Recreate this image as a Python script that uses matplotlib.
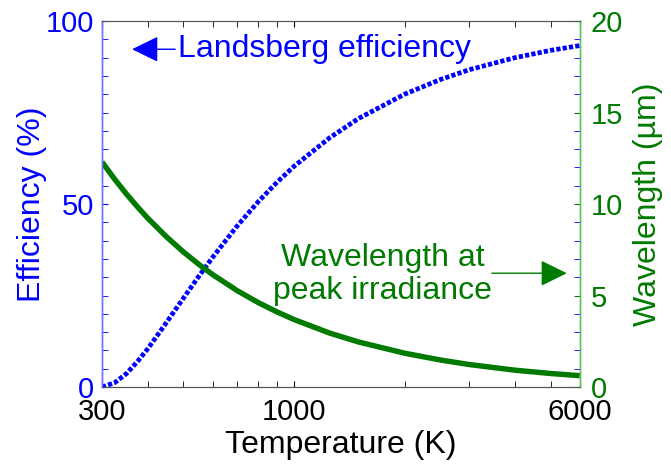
import matplotlib
matplotlib.use("Agg")
import matplotlib.pyplot as plt
from matplotlib.ticker import FixedLocator, NullFormatter, MultipleLocator

plt.rcParams['font.family'] = ['Liberation Sans', 'DejaVu Sans']

# temperatures (K) and values
temperature = [300, 325, 350, 375, 400, 450, 500, 550, 600, 700, 800, 900,
               1000, 1250, 1500, 2000, 2500, 3000, 4000, 5000, 6000]
efficiency = [0.0, 1.2, 3.7, 7.0, 10.5, 17.7, 24.3, 30.2, 35.4, 44.0, 50.7, 56.0,
              60.3, 68.1, 73.4, 80.0, 84.0, 86.7, 90.0, 92.0, 93.3]
wavelength = [12.3, 11.35, 10.54, 9.84, 9.22, 8.20, 7.38, 6.71, 6.15, 5.27, 4.61, 4.10,
              3.69, 2.95, 2.46, 1.85, 1.48, 1.23, 0.92, 0.74, 0.62]

x_ticks = [300, 1000, 6000]
x_minor = [400, 500, 600, 700, 800, 900, 2000, 3000, 4000, 5000]

blue = '#0000ff'
green = '#007a00'
fs = 21
lab_fs = 23

fig = plt.figure(figsize=(6.71, 4.68), dpi=100)
ax = fig.add_axes([0.152, 0.173, 0.712, 0.782])
ax2 = ax.twinx()

ax.plot(temperature, efficiency, color=blue, lw=3.4,
        linestyle=(0, (0.9, 0.45)), dash_capstyle='butt', zorder=3)
ax2.plot(temperature, wavelength, color=green, lw=3.9, solid_capstyle='butt')

ax.set_xscale('log')
ax.set_xlim(300, 6000)
ax.set_ylim(0, 100)
ax2.set_ylim(0, 20)

ax.xaxis.set_major_locator(FixedLocator(x_ticks))
ax.xaxis.set_minor_locator(FixedLocator(x_minor))
ax.xaxis.set_minor_formatter(NullFormatter())
ax.set_xticklabels([str(t) for t in x_ticks])
ax.yaxis.set_major_locator(FixedLocator([0, 50, 100]))
ax.yaxis.set_minor_locator(MultipleLocator(5))
ax2.yaxis.set_major_locator(FixedLocator([0, 5, 10, 15, 20]))
ax2.yaxis.set_minor_locator(MultipleLocator(1))

ax.tick_params(axis='x', which='both', direction='in', length=4, top=True,
               labelsize=fs, pad=8, colors='black')
ax.tick_params(axis='y', which='both', direction='in', length=4, labelsize=fs,
               colors=blue, pad=6)
ax2.tick_params(axis='y', which='both', direction='in', length=4, labelsize=fs,
                colors=green, pad=8)
ax2.tick_params(axis='y', which='minor', colors=blue)

ax.set_xlabel('Temperature (K)', fontsize=lab_fs, labelpad=3)
ax.set_ylabel('Efficiency (%)', fontsize=lab_fs, color=blue, labelpad=-1)
ax2.set_ylabel('Wavelength (\u00b5m)', fontsize=lab_fs, color=green, labelpad=7)

for a in (ax, ax2):
    a.spines['top'].set_color('#555555')
    a.spines['bottom'].set_color('#555555')
    a.spines['left'].set_color('#7070ff')
    a.spines['right'].set_color('#60c060')
    a.spines['left'].set_linewidth(1.0)
    a.spines['right'].set_linewidth(1.0)

head = '-|>,head_length=0.55,head_width=0.27'
ax.annotate('Landsberg efficiency', xy=(0.063, 0.923), xycoords='axes fraction',
            xytext=(0.159, 0.923), textcoords='axes fraction',
            ha='left', va='center', fontsize=23, color=blue,
            arrowprops=dict(arrowstyle=head, mutation_scale=30, color=blue,
                            lw=1, shrinkA=0, shrinkB=0))

ax.text(0.588, 0.308, 'Wavelength at\npeak irradiance', transform=ax.transAxes,
        ha='center', va='center', fontsize=23, color=green, linespacing=1.15)
ax.annotate('', xy=(0.973, 0.311), xycoords='axes fraction',
            xytext=(0.816, 0.311), textcoords='axes fraction',
            arrowprops=dict(arrowstyle=head, mutation_scale=30, color=green,
                            lw=1, shrinkA=0, shrinkB=0))

fig.savefig('out.png', dpi=100)
